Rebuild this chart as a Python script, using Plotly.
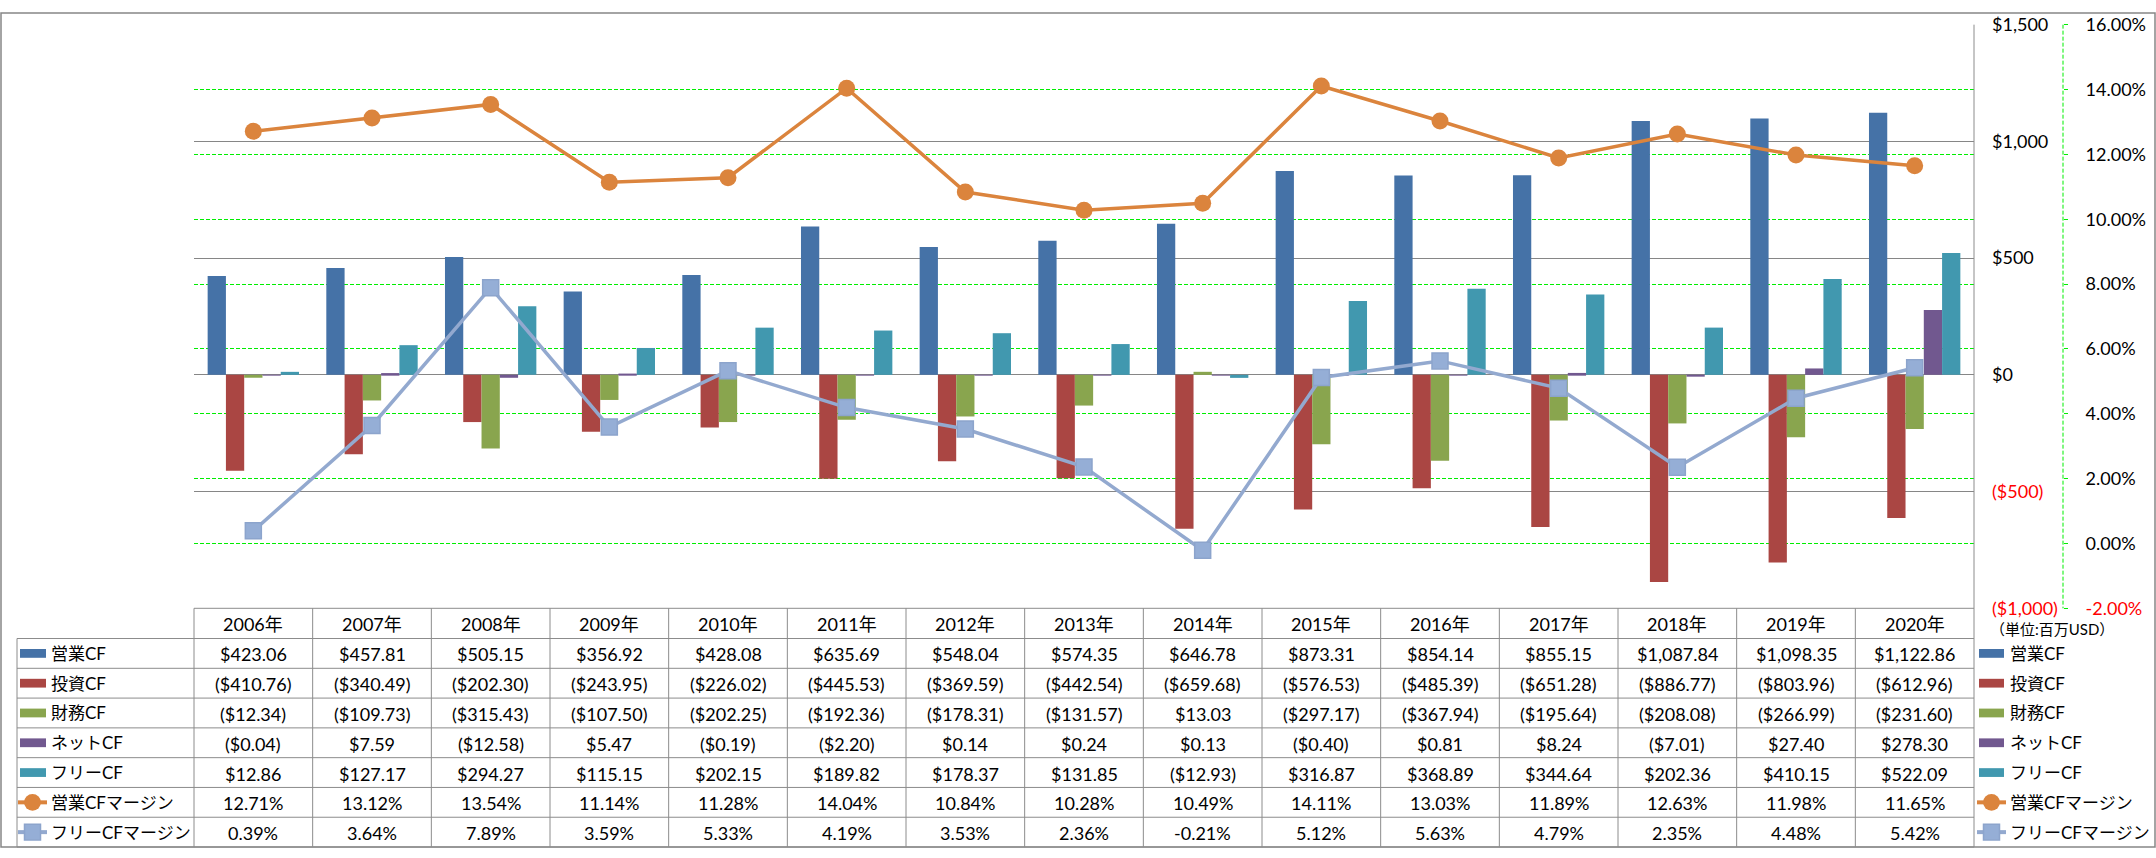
import plotly.graph_objects as go

# ---------------- data ----------------
years = ["2006年", "2007年", "2008年", "2009年", "2010年", "2011年", "2012年", "2013年",
         "2014年", "2015年", "2016年", "2017年", "2018年", "2019年", "2020年"]
operating_cf = [423.06, 457.81, 505.15, 356.92, 428.08, 635.69, 548.04, 574.35,
                646.78, 873.31, 854.14, 855.15, 1087.84, 1098.35, 1122.86]
investing_cf = [-410.76, -340.49, -202.30, -243.95, -226.02, -445.53, -369.59, -442.54,
                -659.68, -576.53, -485.39, -651.28, -886.77, -803.96, -612.96]
financing_cf = [-12.34, -109.73, -315.43, -107.50, -202.25, -192.36, -178.31, -131.57,
                13.03, -297.17, -367.94, -195.64, -208.08, -266.99, -231.60]
net_cf = [-0.04, 7.59, -12.58, 5.47, -0.19, -2.20, 0.14, 0.24,
          0.13, -0.40, 0.81, 8.24, -7.01, 27.40, 278.30]
free_cf = [12.86, 127.17, 294.27, 115.15, 202.15, 189.82, 178.37, 131.85,
           -12.93, 316.87, 368.89, 344.64, 202.36, 410.15, 522.09]
operating_margin = [12.71, 13.12, 13.54, 11.14, 11.28, 14.04, 10.84, 10.28,
                    10.49, 14.11, 13.03, 11.89, 12.63, 11.98, 11.65]
free_margin = [0.39, 3.64, 7.89, 3.59, 5.33, 4.19, 3.53, 2.36,
               -0.21, 5.12, 5.63, 4.79, 2.35, 4.48, 5.42]

bar_names = ["営業CF", "投資CF", "財務CF", "ネットCF", "フリーCF"]
line_names = ["営業CFマージン", "フリーCFマージン"]
usd_ticks = [-1000, -500, 0, 500, 1000, 1500]
pct_ticks = [-2, 0, 2, 4, 6, 8, 10, 12, 14, 16]
unit_label = "（単位:百万USD）"

# ---------------- styles ----------------
W, H = 2156, 858
PL, PR, PT, PB = 194, 1974, 13, 612
bar_colors = ["#4572A7", "#AA4643", "#89A54E", "#71588F", "#4198AF"]
orange = "#DB843D"
lblue = "#93A9CF"
grid_gray = "#868686"
green = "#00EE00"
FONT = "Lato, 'Noto Sans CJK JP', sans-serif"
NUM_SIZE = 18
LBL_SIZE = 17

def px(x):
    return x / W

def py(y):
    return 1 - y / H

def money(v):
    s = f"${abs(v):,.2f}"
    return f"({s})" if v < 0 else s

def money0(v):
    s = f"${abs(v):,.0f}"
    return f"<span style='color:#FF0000'>({s})</span>" if v < 0 else s

def pct(v):
    return f"{v:.2f}%"

def pct_tick(v):
    s = f"{v:.2f}%"
    return f"<span style='color:#FF0000'>{s}</span>" if v < 0 else s

fig = go.Figure()

bar_series = [operating_cf, investing_cf, financing_cf, net_cf, free_cf]
for name, vals, col in zip(bar_names, bar_series, bar_colors):
    fig.add_trace(go.Bar(x=years, y=vals, name=name, marker=dict(color=col, line=dict(width=0)),
                         yaxis="y", showlegend=False))

fig.add_trace(go.Scatter(x=years, y=operating_margin, name=line_names[0], yaxis="y2",
                         mode="lines+markers", line=dict(color=orange, width=3.5),
                         marker=dict(symbol="circle", size=17, color=orange), showlegend=False))
fig.add_trace(go.Scatter(x=years, y=free_margin, name=line_names[1], yaxis="y2",
                         mode="lines+markers", line=dict(color=lblue, width=3.5),
                         marker=dict(symbol="square", size=16, color="#95AED6",
                                     line=dict(color="#8CA4CC", width=1.5)), showlegend=False))

shapes = []
annotations = []

def hline(y, x0, x1, color="#8C8C8C", width=1):
    shapes.append(dict(type="line", xref="paper", yref="paper", x0=px(x0), x1=px(x1),
                       y0=py(y), y1=py(y), line=dict(color=color, width=width), layer="above"))

def vline(x, y0, y1, color="#8C8C8C", width=1, dash="solid"):
    shapes.append(dict(type="line", xref="paper", yref="paper", x0=px(x), x1=px(x),
                       y0=py(y0), y1=py(y1), line=dict(color=color, width=width, dash=dash),
                       layer="above"))

# chart border
shapes.append(dict(type="rect", xref="paper", yref="paper", x0=px(1), x1=px(2155),
                   y0=py(857), y1=py(1), line=dict(color=grid_gray, width=1.5)))

# secondary axis line (green dashed)
AX2 = 2063
vline(AX2, PT, PB, color=green, width=1, dash="4px,2px")

# table geometry
rows = [PB, 643]
row_h = (857 - 643) / 7
for i in range(1, 8):
    rows.append(643 + i * row_h)
col_w = (PR - PL) / len(years)

hline(PB, PL, PR)
for r in rows[1:]:
    hline(r, 17, PR)
vline(17, 643, 857)
vline(PL, PB, 857)
for i in range(1, len(years)):
    vline(PL + i * col_w, PB, 857)
vline(PR, PT, 857)

def text(x, y, s, anchor="center", size=NUM_SIZE):
    annotations.append(dict(xref="paper", yref="paper", x=px(x), y=py(y), text=s,
                            showarrow=False, xanchor=anchor, yanchor="middle",
                            font=dict(family=FONT, size=size, color="#000000")))

# header years
for i, yr in enumerate(years):
    text(PL + (i + 0.5) * col_w, (rows[0] + rows[1]) / 2 + 1, yr)

# value rows
table_rows = [(bar_names[k], [money(v) for v in bar_series[k]]) for k in range(5)]
table_rows.append((line_names[0], [pct(v) for v in operating_margin]))
table_rows.append((line_names[1], [pct(v) for v in free_margin]))

def key(xl, xr, yc, kind, col):
    if kind == "bar":
        shapes.append(dict(type="rect", xref="paper", yref="paper", x0=px(xl), x1=px(xr),
                           y0=py(yc + 4.5), y1=py(yc - 4.5), fillcolor=col, line=dict(width=0),
                           layer="above"))
    else:
        xc = (xl + xr) / 2
        shapes.append(dict(type="line", xref="paper", yref="paper", x0=px(xl), x1=px(xr),
                           y0=py(yc), y1=py(yc), line=dict(color=col, width=4), layer="above"))
        r = 8.5
        if kind == "circle":
            shapes.append(dict(type="circle", xref="paper", yref="paper", x0=px(xc - r),
                               x1=px(xc + r), y0=py(yc + r), y1=py(yc - r), fillcolor=col,
                               line=dict(width=0), layer="above"))
        else:
            r = 8
            shapes.append(dict(type="rect", xref="paper", yref="paper", x0=px(xc - r),
                               x1=px(xc + r), y0=py(yc + r), y1=py(yc - r), fillcolor="#95AED6",
                               line=dict(color="#8CA4CC", width=1.5), layer="above"))

kinds = ["bar"] * 5 + ["circle", "square"]
kcols = bar_colors + [orange, lblue]
for k, (label, vals) in enumerate(table_rows):
    yc = (rows[k + 1] + rows[k + 2]) / 2
    for i, s in enumerate(vals):
        text(PL + (i + 0.5) * col_w, yc + 1, s)
    # left legend
    if kinds[k] == "bar":
        key(20, 46, yc, "bar", kcols[k])
    else:
        key(18, 47, yc, kinds[k], kcols[k])
    text(49, yc, label, anchor="left", size=LBL_SIZE)
    # right legend
    if kinds[k] == "bar":
        key(1979, 2004, yc, "bar", kcols[k])
    else:
        key(1977, 2006, yc, kinds[k], kcols[k])
    text(2008, yc, label, anchor="left", size=LBL_SIZE)

text(1988, 633, unit_label, anchor="left", size=15)

fig.update_layout(
    width=W, height=H,
    margin=dict(l=0, r=0, t=0, b=0),
    paper_bgcolor="white", plot_bgcolor="white",
    barmode="group", bargap=0.23, bargroupgap=0,
    font=dict(family=FONT, size=NUM_SIZE, color="#000000"),
    showlegend=False,
    xaxis=dict(domain=[px(PL), px(PR)], type="category", range=[-0.5, len(years) - 0.5],
               showgrid=False, showticklabels=False, zeroline=False, showline=False, ticks=""),
    yaxis=dict(domain=[py(PB), py(PT)], range=[-1000, 1500], side="right",
               tickvals=usd_ticks, ticktext=[money0(v) for v in usd_ticks],
               showgrid=True, gridcolor=grid_gray, gridwidth=1, zeroline=False,
               showline=False, ticks="", ticklabelstandoff=17,
               tickfont=dict(family=FONT, size=NUM_SIZE, color="#000000")),
    yaxis2=dict(overlaying="y", anchor="free", position=px(AX2), side="right",
                range=[-2, 16], tickvals=pct_ticks, ticktext=[pct_tick(v) for v in pct_ticks],
                showgrid=True, gridcolor=green, gridwidth=1, griddash="4px,2px",
                zeroline=False, showline=False, ticks="outside", ticklen=4, tickcolor=green,
                tickwidth=1, ticklabelstandoff=14,
                tickfont=dict(family=FONT, size=NUM_SIZE, color="#000000")),
    shapes=shapes,
    annotations=annotations,
)

fig.write_html("out.html", config={"displayModeBar": False},
               post_script="document.body.style.margin='0';document.body.style.overflow='hidden';")
